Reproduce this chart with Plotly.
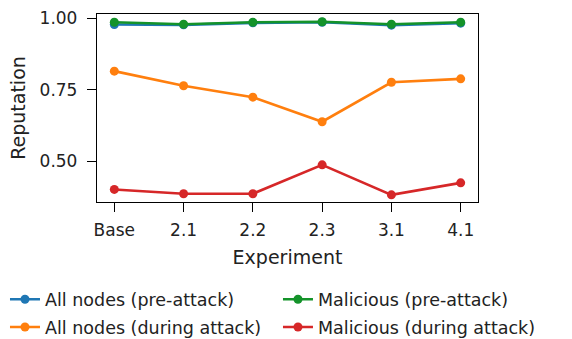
import plotly.graph_objects as go

# Experiment labels along the x axis
experiments = ["Base", "2.1", "2.2", "2.3", "3.1", "4.1"]

# Mean reputation per experiment
all_pre = [0.978, 0.977, 0.984, 0.986, 0.976, 0.983]
all_during = [0.815, 0.764, 0.724, 0.638, 0.776, 0.788]
mal_pre = [0.986, 0.979, 0.986, 0.988, 0.979, 0.986]
mal_during = [0.401, 0.386, 0.386, 0.487, 0.382, 0.424]

y_ticks = [0.50, 0.75, 1.00]

FONT = "DejaVu Sans"
TEXT = "#222222"
x_pos = list(range(len(experiments)))

# (label, values, colour, legend column)
series = [
    ("All nodes (pre-attack)", all_pre, "#1f77b4", "legend"),
    ("All nodes (during attack)", all_during, "#ff7f0e", "legend"),
    ("Malicious (pre-attack)", mal_pre, "#14932a", "legend2"),
    ("Malicious (during attack)", mal_during, "#d62728", "legend2"),
]

fig = go.Figure()
for i, (name, vals, color, leg) in enumerate(series):
    fig.add_trace(go.Scatter(
        x=x_pos, y=vals, name=name, mode="lines+markers",
        line=dict(color=color, width=2.6),
        marker=dict(color=color, size=9),
        legend=leg, legendgroup=f"g{i}",
    ))

axis_common = dict(
    showline=True, linecolor="black", linewidth=1.3, mirror=True,
    ticks="outside", ticklen=9, tickwidth=1.2, tickcolor="black",
    showgrid=False, zeroline=False,
    tickfont=dict(family=FONT, size=17, color=TEXT),
)

fig.update_xaxes(
    range=[-0.25, 5.25], tickvals=x_pos, ticktext=experiments,
    ticklabelstandoff=3,
    title=dict(text="Experiment", font=dict(family=FONT, size=19, color=TEXT), standoff=12),
    **axis_common,
)
fig.update_yaxes(
    range=[0.357, 1.015], tickvals=y_ticks, tickformat=".2f",
    ticklabelstandoff=6,
    title=dict(text="Reputation", font=dict(family=FONT, size=19, color=TEXT), standoff=8),
    **axis_common,
)

legend_common = dict(
    orientation="v", yanchor="top", xanchor="left",
    font=dict(family=FONT, size=17.5, color=TEXT),
    itemwidth=30, tracegroupgap=2,
    bgcolor="rgba(0,0,0,0)",
)

fig.update_layout(
    width=572, height=339,
    margin=dict(l=97, r=94, t=14, b=137, autoexpand=False),
    paper_bgcolor="white", plot_bgcolor="white",
    font=dict(family=FONT, size=17, color=TEXT),
    legend=dict(x=-0.2415, y=-0.422, **legend_common),
    legend2=dict(x=0.475, y=-0.422, **legend_common),
)

fig.write_html("out.html")
